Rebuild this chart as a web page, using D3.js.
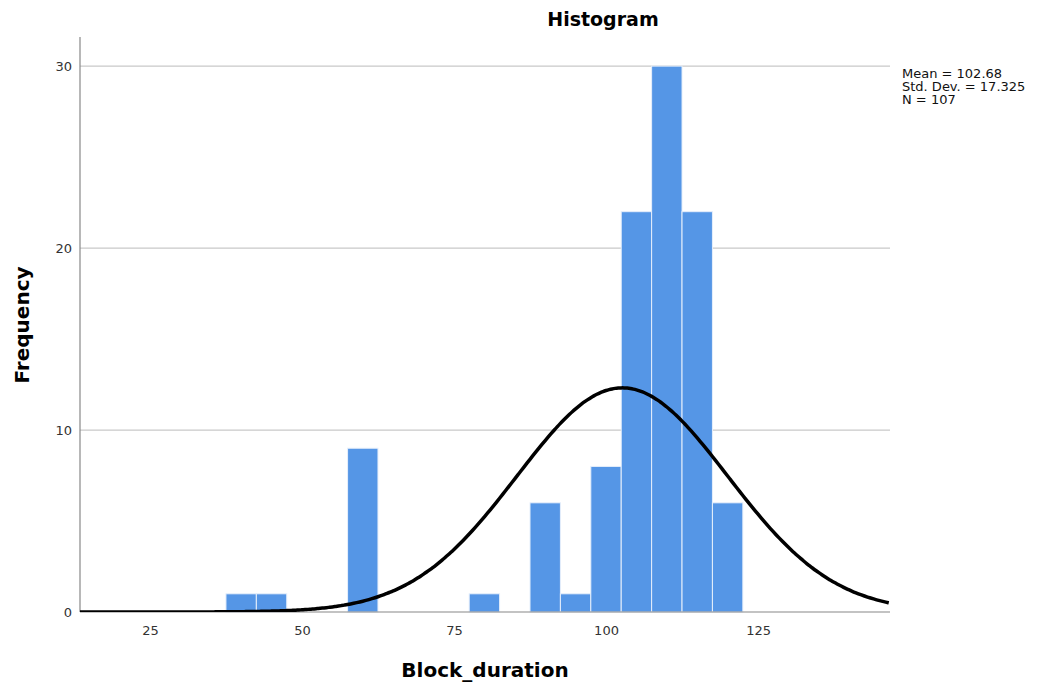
<!DOCTYPE html>
<html>
<head>
<meta charset="utf-8">
<script src="https://cdn.jsdelivr.net/npm/d3@7"></script>
<style>
  body { margin: 0; background: #fff; }
  text { font-family: "DejaVu Sans", sans-serif; }
</style>
</head>
<body>
<div class="displayArea"></div>
<script>
// histogram bins (centre of each 5-unit bin) and counts
const binCenters = [40, 45, 60, 80, 90, 95, 100, 105, 110, 115, 120];
const counts = [1, 1, 9, 1, 6, 1, 8, 22, 30, 22, 6];
const binWidth = 5;
const xTicks = [25, 50, 75, 100, 125];
const yTicks = [0, 10, 20, 30];
const stats = { mean: 102.68, sd: 17.325, n: 107 };
const statLines = ["Mean = 102.68", "Std. Dev. = 17.325", "N = 107"];

const width = 1045, height = 684;
const plotLeft = 80, plotRight = 890, plotTop = 37, plotBottom = 612;

const svg = d3.select(".displayArea").append("svg")
    .attr("width", width)
    .attr("height", height);

const x = d3.scaleLinear().domain([13.5, 146.7]).range([plotLeft, plotRight]);
const y = d3.scaleLinear().domain([0, 31.6]).range([plotBottom, plotTop]);

svg.append("defs").append("clipPath").attr("id", "plotClip")
    .append("rect")
    .attr("x", plotLeft).attr("y", plotTop)
    .attr("width", plotRight - plotLeft).attr("height", plotBottom - plotTop);

// gridlines
svg.append("g")
    .selectAll("line")
    .data(yTicks.filter(d => d > 0))
    .join("line")
    .attr("x1", plotLeft).attr("x2", plotRight)
    .attr("y1", d => y(d)).attr("y2", d => y(d))
    .attr("stroke", "#c9c9c9")
    .attr("stroke-width", 1.2);

// bars
svg.append("g")
    .selectAll("rect")
    .data(binCenters)
    .join("rect")
    .attr("x", d => x(d - binWidth / 2))
    .attr("width", d => x(d + binWidth / 2) - x(d - binWidth / 2))
    .attr("y", (d, i) => y(counts[i]))
    .attr("height", (d, i) => y(0) - y(counts[i]))
    .attr("fill", "#5596e6")
    .attr("stroke", "#e6effb")
    .attr("stroke-width", 1);

// axes
const yAxis = svg.append("g")
    .attr("transform", `translate(${plotLeft},0)`)
    .call(d3.axisLeft(y).tickValues(yTicks).tickSize(0).tickPadding(8));
yAxis.select(".domain").remove();
yAxis.selectAll("text").attr("font-size", 13).attr("fill", "#333");

const xAxis = svg.append("g")
    .attr("transform", `translate(0,${plotBottom})`)
    .call(d3.axisBottom(x).tickValues(xTicks).tickSize(0).tickPadding(14));
xAxis.select(".domain").remove();
xAxis.selectAll("text").attr("font-size", 13).attr("fill", "#333");

svg.append("line")
    .attr("x1", plotLeft).attr("x2", plotLeft)
    .attr("y1", plotTop).attr("y2", plotBottom)
    .attr("stroke", "#888").attr("stroke-width", 1.2);
svg.append("line")
    .attr("x1", plotLeft).attr("x2", plotRight)
    .attr("y1", plotBottom).attr("y2", plotBottom)
    .attr("stroke", "#888").attr("stroke-width", 1.2);

// normal curve from the reported mean / sd / N
const curveX = d3.range(13.5, 147, 0.5);
const scaleFactor = stats.n * binWidth / (stats.sd * Math.sqrt(2 * Math.PI));
const line = d3.line()
    .x(d => x(d))
    .y(d => y(scaleFactor * Math.exp(-0.5 * ((d - stats.mean) / stats.sd) ** 2)))
    .curve(d3.curveBasis);
svg.append("path")
    .datum(curveX)
    .attr("clip-path", "url(#plotClip)")
    .attr("fill", "none")
    .attr("stroke", "#000")
    .attr("stroke-width", 3.5)
    .attr("d", line);

// titles
svg.append("text")
    .attr("x", 603).attr("y", 26)
    .attr("text-anchor", "middle")
    .attr("font-size", 19).attr("font-weight", "bold")
    .text("Histogram");

svg.append("text")
    .attr("x", 485).attr("y", 677)
    .attr("text-anchor", "middle")
    .attr("font-size", 20).attr("font-weight", "bold")
    .text("Block_duration");

svg.append("text")
    .attr("transform", "translate(29,325) rotate(-90)")
    .attr("text-anchor", "middle")
    .attr("font-size", 20).attr("font-weight", "bold")
    .text("Frequency");

// stats box
svg.append("g")
    .selectAll("text")
    .data(statLines)
    .join("text")
    .attr("x", 902)
    .attr("y", (d, i) => 78 + i * 13)
    .attr("font-family", "Liberation Sans, sans-serif")
    .attr("font-size", 13)
    .attr("fill", "#111")
    .text(d => d);
</script>
</body>
</html>
